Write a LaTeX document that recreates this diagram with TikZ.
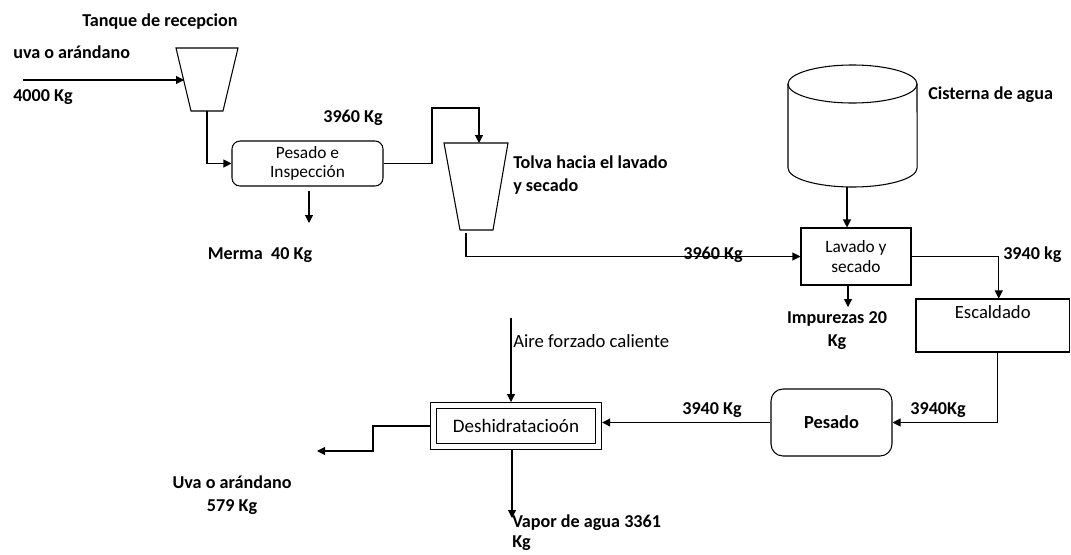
\documentclass[tikz,border=0pt]{standalone}
\usepackage{fontspec}
\setmainfont{Carlito}
\usetikzlibrary{calc, positioning}
\usetikzlibrary{arrows.meta}

\begin{document}
\begin{tikzpicture}[x=0.75pt, y=-0.75pt,
  flecha/.style={-{Triangle[length=6pt, width=6pt]}, line width=0.8pt},
  linea/.style={line width=0.8pt},
  etiq/.style={font=\bfseries\fontsize{13.6}{17.25}\selectfont, inner sep=0pt},
  texto/.style={font=\fontsize{13}{14.5}\selectfont, align=center},
  caja/.style={draw, line width=0.8pt, texto, inner sep=0pt}]
\useasboundingbox (0,0) rectangle (1071,554);

% equipos
\node[caja, rounded corners=6pt, minimum width=113.25pt, minimum height=33.75pt]
  (insp) at (307.5,163.5) {Pesado e\\Inspección};
\node[caja, minimum width=82.5pt, minimum height=42.75pt] (lav) at (856,256.5) {Lavado y\\secado};
\node[caja, minimum width=115.1pt, minimum height=39.75pt, font=\fontsize{14}{15}\selectfont]
  (esc) at (992.75,325.5) {Escaldado\\\strut};
\node[caja, rounded corners=9pt, minimum width=90.75pt, minimum height=50.25pt,
  font=\bfseries\fontsize{13.8}{17}\selectfont] (pes) at (831.5,422.5) {Pesado};
\node[caja, double, double distance=3.6pt, outer sep=2.6pt, minimum width=124.1pt,
  minimum height=30.75pt, font=\fontsize{14.3}{16}\selectfont] (desh) at (516,426) {Deshidratacioón};

% tanque y tolva
\draw[linea] (176,48) -- (238,48) -- (223,111) -- (191,111) -- cycle;
\draw[linea] (444,143) -- (508,143) -- (493,230) -- (460,230) -- cycle;

% cisterna
\draw[linea] (788,84) -- (788,168)
  arc[start angle=180, end angle=360, x radius=48.4pt, y radius=14.25pt] -- (917,84);
\draw[linea] (852.5,84) ellipse [x radius=48.4pt, y radius=14.25pt];

% puntos libres
\coordinate (entrada) at (23,80);
\coordinate (tanqueIzq) at (184,80);
\coordinate (tanqueBajo) at (207,111);
\coordinate (codoA) at (432,108);
\coordinate (tolvaArriba) at (479,143);
\coordinate (tolvaBajo) at (466,233);
\coordinate (cisterna) at (847,187);
\coordinate (impurezas) at (848,307);
\coordinate (merma) at (309,223);
\coordinate (aire) at (511,318);
\coordinate (codoB) at (373,451);
\coordinate (salida) at (317,451);
\coordinate (vapor) at (512,518);

% flujos
\draw[flecha] (entrada) -- (tanqueIzq);
\draw[flecha] (tanqueBajo) |- (insp.west);
\draw[flecha] (insp.east) -| (codoA) -| (tolvaArriba);
\draw[flecha] (tolvaBajo) |- (lav.west);
\draw[flecha] ($(merma |- insp.south)+(0,4)$) -- (merma);
\draw[flecha] (cisterna) -- (cisterna |- lav.north);
\draw[flecha] (lav.east) -| ($(esc.north)+(6,0)$);
\draw[flecha] (impurezas |- lav.south) -- (impurezas);
\draw[flecha] ($(esc.south)+(5,0)$) |- (pes.east);
\draw[flecha] (pes.west) -- (pes.west -| desh.east);
\draw[flecha] (aire) -- (aire |- desh.north);
\draw[flecha] (desh.west) -| (codoB) -- (salida);
\draw[flecha] (vapor |- desh.south) -- (vapor);

% etiquetas
\node[etiq] (lblTanque) at (160,22) {Tanque de recepcion};
\node[etiq, anchor=west] (lblUva) at (13,52) {uva o arándano};
\node[etiq, anchor=west] (lblEntrada) at (13,97) {4000 Kg};
\node[etiq, anchor=east] (lblInsp) at (383,118) {3960 Kg};
\node[etiq, anchor=west, align=left] (lblTolva) at (513,175.5) {Tolva hacia el lavado\\y secado};
\node[etiq, anchor=west] (lblCisterna) at (928,95) {Cisterna de agua};
\node[etiq] (lblLavEntra) at (713,255) {3960 Kg};
\node[etiq, anchor=west] (lblLavSale) at (1003,255) {3940 kg};
\node[etiq, align=center] (lblImp) at (837,331) {Impurezas 20\\Kg};
\node[etiq] (lblEsc) at (938,410) {3940Kg};
\node[etiq] (lblPes) at (712,410) {3940 Kg};
\node[font=\fontsize{14}{17}\selectfont, inner sep=0pt, anchor=west] (lblAire) at (513,341) {Aire forzado caliente};
\node[etiq, align=center] (lblSalida) at (232,495.5) {Uva o arándano\\579 Kg};
\node[etiq, anchor=west, align=left, font=\bfseries\fontsize{13.6}{15}\selectfont]
  (lblVapor) at (512,533) {Vapor de agua 3361\\Kg};
\node[etiq] (lblMerma) at (260,255) {Merma\ \ 40 Kg};
\end{tikzpicture}
\end{document}
